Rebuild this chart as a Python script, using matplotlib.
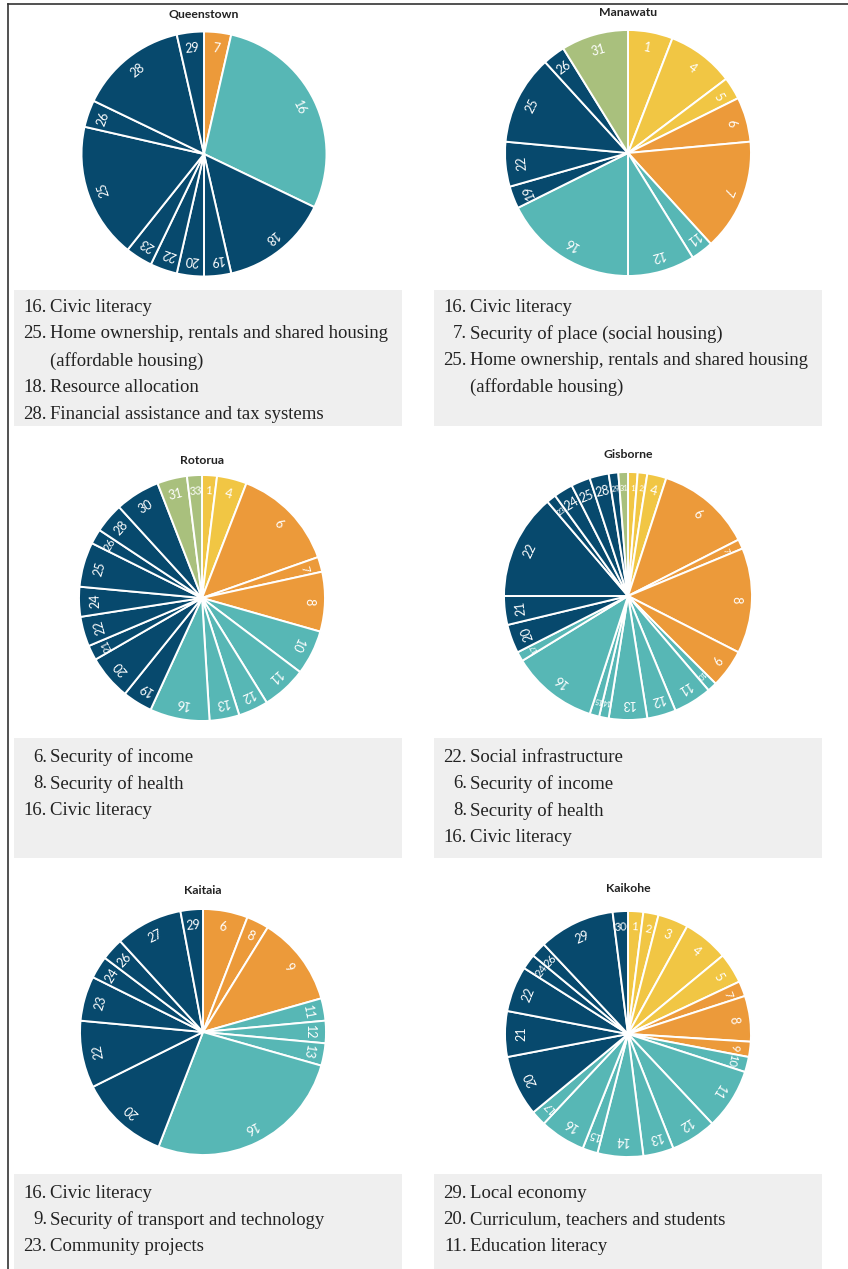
import numpy as np
import matplotlib
matplotlib.use("Agg")
import matplotlib.pyplot as plt
from matplotlib.lines import Line2D
from matplotlib.patches import Rectangle

# ======================
# data: topic number -> count of mentions
# ======================
queenstown_topics = [7, 16, 18, 19, 20, 22, 23, 25, 26, 28, 29]
queenstown_counts = [1, 8, 4, 1, 1, 1, 1, 5, 1, 4, 1]

manawatu_topics = [1, 4, 5, 6, 7, 11, 12, 16, 19, 22, 25, 26, 31]
manawatu_counts = [2, 3, 1, 2, 5, 1, 3, 6, 1, 2, 4, 1, 3]

rotorua_topics = [1, 4, 6, 7, 8, 10, 11, 12, 13, 16, 19, 20, 21, 22, 24, 25, 26, 28, 30, 31, 33]
rotorua_counts = [1, 2, 7, 1, 4, 3, 3, 2, 2, 4, 2, 3, 1, 2, 2, 3, 1, 2, 3, 2, 1]

gisborne_topics = [1, 2, 4, 6, 7, 8, 9, 10, 11, 12, 13, 14, 15, 16, 17, 20, 21, 22, 23, 24, 25, 28, 29, 31]
gisborne_counts = [1, 1, 2, 10, 1, 11, 4, 1, 4, 3, 4, 1, 1, 9, 1, 3, 3, 11, 1, 2, 2, 2, 1, 1]

kaitaia_topics = [6, 8, 9, 11, 12, 13, 16, 20, 22, 23, 24, 26, 27, 29]
kaitaia_counts = [2, 1, 4, 1, 1, 1, 9, 4, 3, 2, 1, 1, 3, 1]

kaikohe_topics = [1, 2, 3, 4, 5, 7, 8, 9, 10, 11, 12, 13, 14, 15, 16, 17, 20, 21, 22, 24, 26, 29, 30]
kaikohe_counts = [1, 1, 2, 3, 2, 1, 3, 1, 1, 4, 3, 2, 3, 1, 3, 1, 4, 3, 3, 1, 1, 5, 1]

queenstown_notes = [("16.", "Civic literacy"),
                    ("25.", "Home ownership, rentals and shared housing"),
                    ("", "(affordable housing)"),
                    ("18.", "Resource allocation"),
                    ("28.", "Financial assistance and tax systems")]
manawatu_notes = [("16.", "Civic literacy"),
                  ("7.", "Security of place (social housing)"),
                  ("25.", "Home ownership, rentals and shared housing"),
                  ("", "(affordable housing)")]
rotorua_notes = [("6.", "Security of income"),
                 ("8.", "Security of health"),
                 ("16.", "Civic literacy")]
gisborne_notes = [("22.", "Social infrastructure"),
                  ("6.", "Security of income"),
                  ("8.", "Security of health"),
                  ("16.", "Civic literacy")]
kaitaia_notes = [("16.", "Civic literacy"),
                 ("9.", "Security of transport and technology"),
                 ("23.", "Community projects")]
kaikohe_notes = [("29.", "Local economy"),
                 ("20.", "Curriculum, teachers and students"),
                 ("11.", "Education literacy")]

# ---------- styles ----------
YELLOW = "#F1C644"
ORANGE = "#EC9A3A"
TEAL = "#57B7B5"
NAVY = "#07496D"
GREEN = "#A9C07D"
BOX = "#EFEFEF"

W, H = 848, 1269
fig = plt.figure(figsize=(W / 100, H / 100), dpi=100)
fig.patch.set_facecolor("white")


def topic_color(t):
    if t <= 5:
        return YELLOW
    if t <= 9:
        return ORANGE
    if t <= 17:
        return TEAL
    if t <= 30:
        return NAVY
    return GREEN


def fx(x):
    return x / W


def fy(y):
    return 1 - y / H


def draw_pie(title, topics, counts, cx, cy, r, title_y):
    pad = 1.03
    ax = fig.add_axes([fx(cx - r * pad), fy(cy + r * pad), 2 * r * pad / W, 2 * r * pad / H])
    wedges, _ = ax.pie(
        counts,
        startangle=90,
        counterclock=False,
        colors=[topic_color(t) for t in topics],
        wedgeprops=dict(edgecolor="white", linewidth=1.4),
    )
    ax.set_xlim(-pad, pad)
    ax.set_ylim(-pad, pad)
    ax.set_aspect("equal")
    ax.axis("off")

    for w, t in zip(wedges, topics):
        span = w.theta2 - w.theta1
        phi = np.deg2rad((w.theta1 + w.theta2) / 2)
        size = min(9, 0.95 * span + 1.2)
        ax.text(0.87 * np.cos(phi), 0.87 * np.sin(phi), str(t),
                rotation=np.rad2deg(phi) - 90, rotation_mode="anchor",
                ha="center", va="center", color="white",
                fontsize=size, family="Lato")

    fig.text(fx(cx), fy(title_y), title, ha="center", va="center",
             fontsize=8.8, family="Lato", fontweight="bold", color="#222222")


def draw_box(notes, x0, x1, y0, y1, first_y):
    fig.add_artist(Rectangle((fx(x0), fy(y1)), (x1 - x0) / W, (y1 - y0) / H,
                             transform=fig.transFigure, facecolor=BOX,
                             edgecolor="none", zorder=0))
    for i, (num, txt) in enumerate(notes):
        y = first_y + i * 26.8
        if num:
            fig.text(fx(x0 + 33), fy(y), num, ha="right", va="center",
                     fontsize=13.5, family="Liberation Serif", color="#222222")
        fig.text(fx(x0 + 36), fy(y), txt, ha="left", va="center",
                 fontsize=13.5, family="Liberation Serif", color="#222222")


draw_pie("Queenstown", queenstown_topics, queenstown_counts, 204, 154, 122.5, 14)
draw_pie("Manawatu", manawatu_topics, manawatu_counts, 628, 153, 123, 12)
draw_pie("Rotorua", rotorua_topics, rotorua_counts, 202, 598, 123, 460)
draw_pie("Gisborne", gisborne_topics, gisborne_counts, 628, 596, 124, 455)
draw_pie("Kaitaia", kaitaia_topics, kaitaia_counts, 203, 1032, 123, 890)
draw_pie("Kaikohe", kaikohe_topics, kaikohe_counts, 628, 1034, 123, 888)

draw_box(queenstown_notes, 14, 402, 290, 426, 307)
draw_box(manawatu_notes, 434, 822, 290, 426, 307)
draw_box(rotorua_notes, 14, 402, 738, 858, 757)
draw_box(gisborne_notes, 434, 822, 738, 858, 757)
draw_box(kaitaia_notes, 14, 402, 1174, 1269, 1193)
draw_box(kaikohe_notes, 434, 822, 1174, 1269, 1193)

# frame lines (top and left)
fig.add_artist(Line2D([fx(8), fx(848)], [fy(4), fy(4)], transform=fig.transFigure,
                      color="#333333", linewidth=1.2))
fig.add_artist(Line2D([fx(8), fx(8)], [fy(4), fy(1269)], transform=fig.transFigure,
                      color="#333333", linewidth=1.2))

fig.savefig("out.png", dpi=100)
plt.close(fig)
